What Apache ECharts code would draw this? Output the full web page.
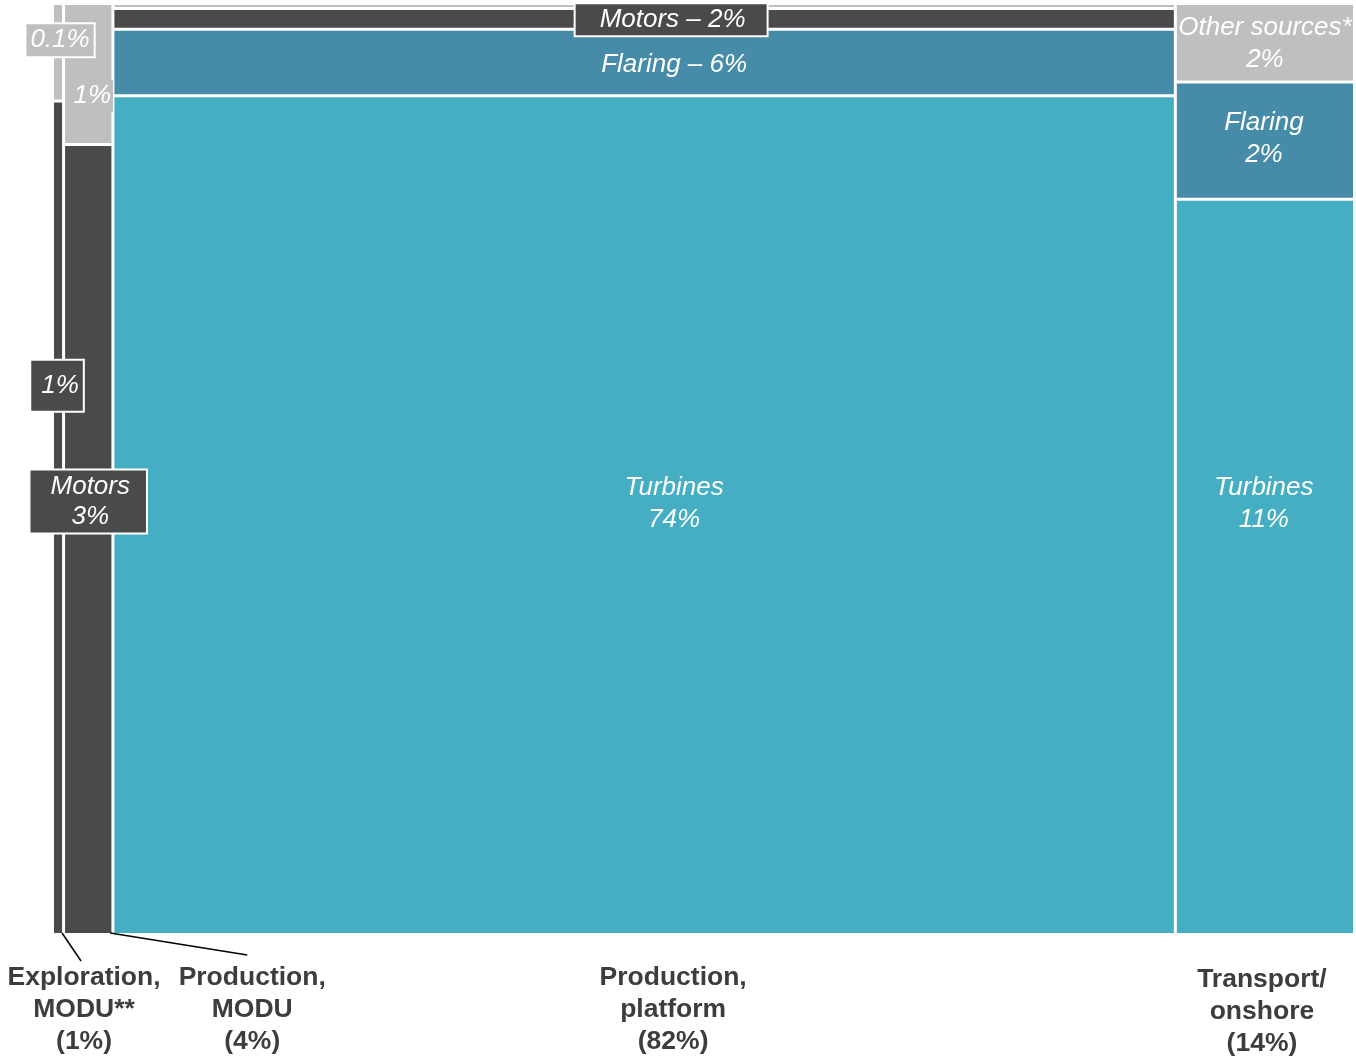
<!DOCTYPE html>
<html>
<head>
<meta charset="utf-8">
<script src="https://cdn.jsdelivr.net/npm/echarts@6/dist/echarts.min.js"></script>
<style>
  html, body { margin: 0; padding: 0; background: #fff; }
  #chart { width: 1356px; height: 1063px; }
</style>
</head>
<body>
<div id="chart"></div>
<script>
// columns of the mekko (left to right), widths, % of total
const columnNames = ['Exploration,\nMODU**', 'Production,\nMODU', 'Production,\nplatform', 'Transport/\nonshore'];
const columnShareLabels = ['(1%)', '(4%)', '(82%)', '(14%)'];
const columnWidths = [0.85, 3.79, 81.6, 13.76];

// segments, stacked bottom to top, % of the column height
const segmentNames = ['Turbines', 'Flaring', 'Motors', 'Other sources*'];
const turbinesShare = [0, 0, 90.05, 78.9];
const flaringShare = [0, 0, 7.18, 12.65];
const motorsShare = [89.5, 84.8, 2.23, 0];
const otherShare = [10.5, 15.2, 0.54, 8.45];

const turbinesLabels = ['', '', 'Turbines\n74%', 'Turbines\n11%'];
const flaringLabels = ['', '', 'Flaring – 6%', 'Flaring\n2%'];
const motorsLabels = ['1%', 'Motors\n3%', 'Motors – 2%', ''];
const otherLabels = ['0.1%', '1%', '', 'Other sources*\n2%'];

const segmentColors = ['#45aec2', '#468ca8', '#4a4a4a', '#bfbfbf'];
const FONT = '"Liberation Sans", Arial, sans-serif';
const GAP = 3;

// label placement (pixel offsets from the segment centre) and boxes
const labelLayout = {
  '0-2': { dx: -1, dy: -132, box: '#4a4a4a', border: true, padding: [10, 4, 8, 10] },
  '0-3': { dx: 2, dy: -12, box: '#bfbfbf', border: true, padding: [2, 4, 0, 4], lh: 30 },
  '1-2': { dx: 0, dy: -38, box: '#4a4a4a', border: true, padding: [2, 16, 0, 20], lh: 30 },
  '1-3': { dx: 4, dy: 22, box: '#bfbfbf', border: false, padding: [0, 2] },
  '2-0': { dx: 30, dy: -11 },
  '2-1': { dx: 30, dy: 2 },
  '2-2': { dx: 27, dy: 1, box: '#4a4a4a', border: true, padding: [3, 21, 0, 24], lh: 28 },
  '3-0': { dx: -1, dy: -63 },
  '3-1': { dx: -1, dy: -2 },
  '3-3': { dx: 0, dy: 1 }
};

const columnLabelLayout = [
  { dx: 26, dy: 29, leader: [[4, 0], [23, 28]] },
  { dx: 164, dy: 29, leader: [[22, 0], [159, 22]] },
  { dx: 29, dy: 29 },
  { dx: -3, dy: 31 }
];

const shares = [turbinesShare, flaringShare, motorsShare, otherShare];
const labels = [turbinesLabels, flaringLabels, motorsLabels, otherLabels];

// build rect data: [x0, x1, y0, y1, segment, column]
const segData = [];
const colData = [];
let cx = 0;
columnWidths.forEach(function (w, c) {
  let cy = 0;
  shares.forEach(function (arr, s) {
    const v = arr[c];
    if (v > 0) {
      segData.push([cx, cx + w, cy, cy + v, s, c]);
      cy += v;
    }
  });
  colData.push([cx, cx + w, c]);
  cx += w;
});

function rectOf(api) {
  const p0 = api.coord([api.value(0), api.value(3)]);
  const p1 = api.coord([api.value(1), api.value(2)]);
  const bottom = api.value(2) === 0;
  return {
    x: p0[0],
    y: p0[1],
    width: p1[0] - p0[0] - GAP,
    height: p1[1] - p0[1] - (bottom ? 0 : GAP)
  };
}

const chart = echarts.init(document.getElementById('chart'));

chart.setOption({
  animation: false,
  grid: { left: 54, right: 0, top: 5, bottom: 130 },
  xAxis: { type: 'value', min: 0, max: 100, show: false },
  yAxis: { type: 'value', min: 0, max: 100, show: false },
  series: [
    {
      type: 'custom',
      data: segData,
      renderItem: function (params, api) {
        return {
          type: 'rect',
          shape: rectOf(api),
          style: { fill: segmentColors[api.value(4)] }
        };
      },
      z: 2
    },
    {
      type: 'custom',
      data: segData,
      renderItem: function (params, api) {
        const s = api.value(4), c = api.value(5);
        const text = labels[s][c];
        if (!text) return;
        const r = rectOf(api);
        const lay = labelLayout[c + '-' + s] || { dx: 0, dy: 0 };
        const style = {
          text: text,
          fill: '#fff',
          fontSize: 26,
          fontStyle: 'italic',
          fontFamily: FONT,
          align: 'center',
          verticalAlign: 'middle',
          lineHeight: lay.lh || 32
        };
        if (lay.box) {
          style.backgroundColor = lay.box;
          style.padding = lay.padding;
          if (lay.border) {
            style.borderColor = '#fff';
            style.borderWidth = 2;
          }
        }
        return {
          type: 'text',
          x: r.x + r.width / 2 + lay.dx,
          y: r.y + r.height / 2 + lay.dy,
          style: style
        };
      },
      z: 5
    },
    {
      type: 'custom',
      data: colData,
      renderItem: function (params, api) {
        const c = api.value(2);
        const p0 = api.coord([api.value(0), 0]);
        const p1 = api.coord([api.value(1), 0]);
        const mid = (p0[0] + p1[0] - GAP) / 2;
        const base = p0[1];
        const lay = columnLabelLayout[c];
        const children = [{
          type: 'text',
          x: mid + lay.dx,
          y: base + lay.dy,
          style: {
            text: columnNames[c] + '\n' + columnShareLabels[c],
            fill: '#3d3d3d',
            fontSize: 26.5,
            fontWeight: 'bold',
            fontFamily: FONT,
            align: 'center',
            verticalAlign: 'top',
            lineHeight: 32
          }
        }];
        if (lay.leader) {
          children.push({
            type: 'line',
            shape: {
              x1: mid + lay.leader[0][0], y1: base + lay.leader[0][1],
              x2: mid + lay.leader[1][0], y2: base + lay.leader[1][1]
            },
            style: { stroke: '#000', lineWidth: 1.5 }
          });
        }
        return { type: 'group', children: children };
      },
      z: 4
    }
  ]
});
</script>
</body>
</html>
